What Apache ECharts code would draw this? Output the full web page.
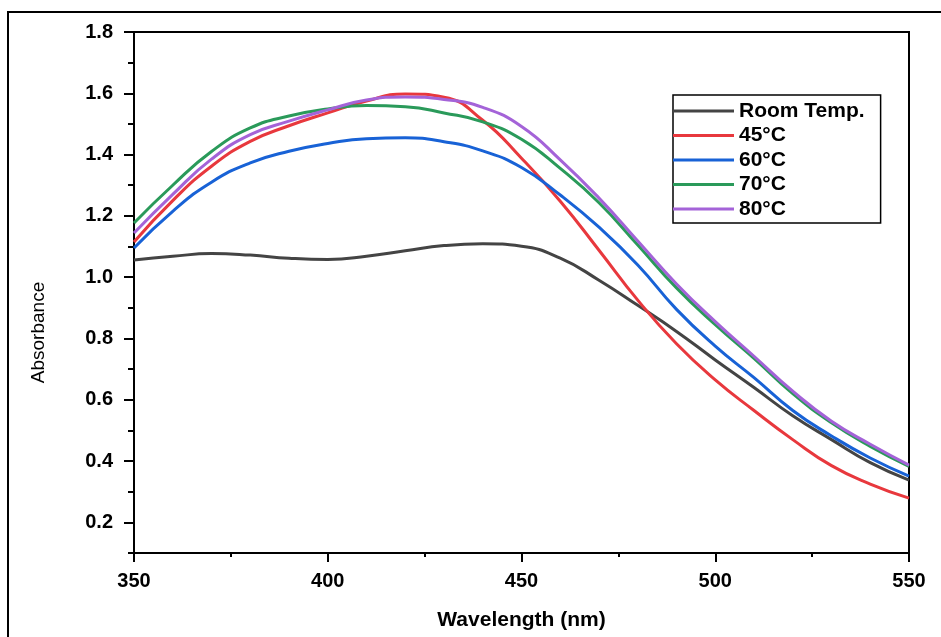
<!DOCTYPE html>
<html>
<head>
<meta charset="utf-8">
<script src="https://cdn.jsdelivr.net/npm/echarts@6/dist/echarts.min.js"></script>
<style>
  html, body { margin: 0; padding: 0; background: #fff; }
  #chart { width: 941px; height: 637px; }
</style>
</head>
<body>
<div id="chart"></div>
<script>
// wavelength (nm)
const wavelengths = [350, 360, 370, 380, 390, 400, 410, 420, 430, 440, 450, 460, 470, 480, 490, 500, 510, 520, 530, 540, 550];
// absorbance per sample
const roomTemp = [1.056, 1.068, 1.077, 1.072, 1.062, 1.058, 1.068, 1.086, 1.103, 1.109, 1.101, 1.062, 0.990, 0.908, 0.823, 0.730, 0.640, 0.548, 0.470, 0.395, 0.338];
const t45 = [1.115, 1.250, 1.362, 1.443, 1.494, 1.536, 1.575, 1.598, 1.587, 1.512, 1.388, 1.248, 1.088, 0.925, 0.783, 0.665, 0.565, 0.470, 0.385, 0.325, 0.279];
const t60 = [1.095, 1.215, 1.310, 1.373, 1.411, 1.436, 1.452, 1.455, 1.442, 1.412, 1.358, 1.268, 1.163, 1.040, 0.895, 0.775, 0.672, 0.565, 0.482, 0.410, 0.351];
const t70 = [1.177, 1.300, 1.410, 1.487, 1.526, 1.549, 1.560, 1.556, 1.536, 1.507, 1.450, 1.355, 1.243, 1.105, 0.965, 0.845, 0.735, 0.620, 0.525, 0.448, 0.383];
const t80 = [1.144, 1.270, 1.385, 1.465, 1.509, 1.546, 1.578, 1.588, 1.580, 1.554, 1.492, 1.383, 1.258, 1.118, 0.978, 0.855, 0.742, 0.628, 0.530, 0.455, 0.387];
const seriesNames = ['Room Temp.', '45°C', '60°C', '70°C', '80°C'];
const yMajorTicks = [0.2, 0.4, 0.6, 0.8, 1.0, 1.2, 1.4, 1.6, 1.8];

const colors = ['#444444', '#e8383d', '#1862d6', '#2a9a5a', '#a463d8'];
const font = 'Liberation Sans, Arial, sans-serif';

function pairs (vals) {
  return wavelengths.map((w, i) => [w, vals[i]]);
}

const myChart = echarts.init(document.getElementById('chart'));
const option = {
  backgroundColor: '#fff',
  animation: false,
  graphic: [{
    type: 'rect',
    shape: { x: 8, y: 12, width: 1000, height: 700 },
    style: { fill: 'none', stroke: '#000', lineWidth: 2 },
    z: -1
  }],
  grid: {
    left: 134,
    right: 32,
    top: 32,
    bottom: 84,
    show: true,
    borderColor: '#000',
    borderWidth: 2
  },
  legend: {
    orient: 'vertical',
    left: 673,
    top: 95,
    data: seriesNames,
    icon: 'rect',
    itemWidth: 61,
    itemHeight: 3,
    itemGap: 2.5,
    padding: [5, 16, 3, 0],
    borderColor: '#000',
    borderWidth: 1.5,
    textStyle: { color: '#000', fontFamily: font, fontWeight: 'bold', fontSize: 21, lineHeight: 22 }
  },
  xAxis: {
    type: 'value',
    min: 350,
    max: 550,
    interval: 50,
    name: 'Wavelength (nm)',
    nameLocation: 'middle',
    nameGap: 57,
    nameTextStyle: { color: '#000', fontFamily: font, fontWeight: 'bold', fontSize: 21 },
    axisLine: { show: true, lineStyle: { color: '#000', width: 2 } },
    axisTick: { show: true, inside: false, length: 9, lineStyle: { color: '#000', width: 2 } },
    minorTick: { show: true, splitNumber: 2, length: 4, lineStyle: { color: '#000', width: 2 } },
    axisLabel: { color: '#000', fontFamily: font, fontWeight: 'bold', fontSize: 20, margin: 18 },
    splitLine: { show: false }
  },
  yAxis: [
    {
      type: 'value',
      min: 0.1,
      max: 1.8,
      interval: 0.1,
      name: 'Absorbance',
      nameLocation: 'middle',
      nameGap: 86,
      nameTextStyle: { color: '#000', fontFamily: font, fontSize: 19, padding: [0, 80, 0, 0] },
      axisLine: { show: true, lineStyle: { color: '#000', width: 2 } },
      axisTick: { show: true, inside: false, length: 10, customValues: yMajorTicks, lineStyle: { color: '#000', width: 2 } },
      axisLabel: {
        color: '#000', fontFamily: font, fontWeight: 'bold', fontSize: 20, margin: 21,
        customValues: yMajorTicks,
        formatter: v => v.toFixed(1)
      },
      splitLine: { show: false }
    },
    {
      type: 'value',
      position: 'left',
      min: 0.1,
      max: 1.8,
      interval: 0.1,
      axisLine: { show: false },
      axisTick: { show: true, inside: false, length: 6, lineStyle: { color: '#000', width: 2 } },
      axisLabel: { show: false },
      splitLine: { show: false }
    }
  ],
  series: [roomTemp, t45, t60, t70, t80].map((vals, i) => ({
    name: seriesNames[i],
    type: 'line',
    smooth: true,
    showSymbol: false,
    color: colors[i],
    lineStyle: { width: 3, color: colors[i] },
    data: pairs(vals)
  }))
};
myChart.setOption(option);
</script>
</body>
</html>
